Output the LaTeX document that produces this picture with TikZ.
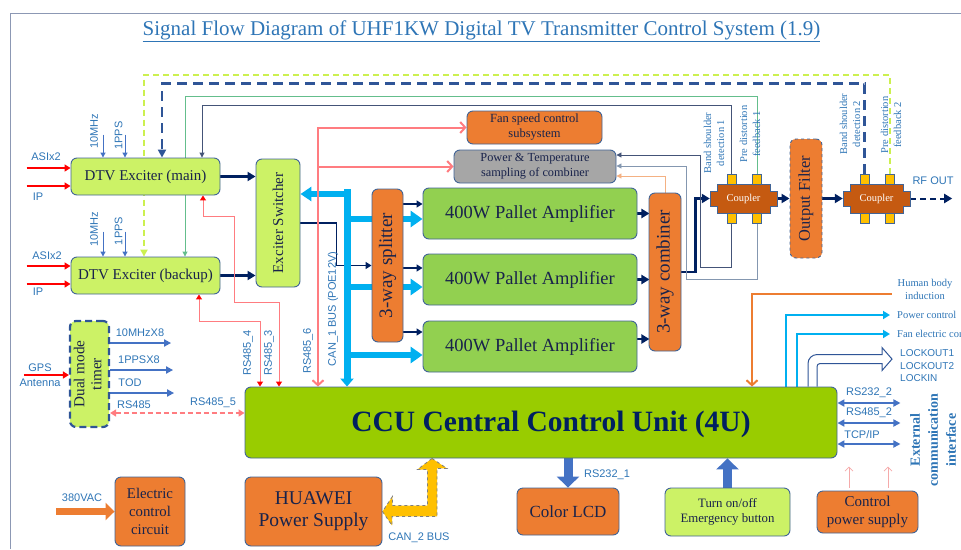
\documentclass[tikz,border=0pt]{standalone}
\usepackage{fontspec}
\usepackage{graphicx}
\setmainfont{Liberation Serif}
\setsansfont{Liberation Sans}
\usetikzlibrary{arrows.meta,backgrounds}

\definecolor{exlime}{RGB}{204,242,102}
\definecolor{pagreen}{RGB}{146,208,80}
\definecolor{ccugreen}{RGB}{153,204,0}
\definecolor{boxorange}{RGB}{237,125,49}
\definecolor{cplbrown}{RGB}{197,90,17}
\definecolor{tabyel}{RGB}{255,192,0}
\definecolor{navyln}{RGB}{0,32,96}
\definecolor{boxedge}{RGB}{65,100,150}
\definecolor{timernavy}{RGB}{47,85,151}
\definecolor{lblblue}{RGB}{46,117,182}
\definecolor{busblue}{RGB}{0,176,240}
\definecolor{rspink}{RGB}{255,124,128}
\definecolor{ltpink}{RGB}{245,170,170}
\definecolor{ltorange}{RGB}{244,177,131}
\definecolor{ptgray}{RGB}{166,166,166}
\definecolor{arrblue}{RGB}{68,114,196}
\definecolor{txtnavy}{RGB}{25,35,75}
\definecolor{fbgreen}{RGB}{100,190,140}
\definecolor{dashlime}{RGB}{204,240,80}
\definecolor{framegray}{RGB}{140,152,180}
\definecolor{fbgray}{RGB}{132,151,176}
\definecolor{fbnavy}{RGB}{68,84,120}

\tikzset{
  box/.style={draw=boxedge, line width=0.9pt, rounded corners=6pt, inner sep=0pt, text=txtnavy, align=center},
  litebox/.style={box, fill=exlime},
  orangebox/.style={box, fill=boxorange},
  pabox/.style={box, fill=pagreen, minimum width=214pt, minimum height=51pt, font=\fontsize{18.5}{22}\selectfont},
  tabsq/.style={draw=boxedge, line width=0.6pt, fill=tabyel, minimum width=9pt, minimum height=10pt, inner sep=0pt},
  sanslbl/.style={font=\sffamily\fontsize{11}{13}\selectfont, text=lblblue, inner sep=0pt},
  serlbl/.style={font=\fontsize{10.5}{13}\selectfont, text=lblblue, inner sep=0pt, align=center},
  thicknavy/.style={draw=navyln, line width=2.6pt, -{Triangle[length=8pt,width=9pt]}},
  thinnavy/.style={draw=navyln, line width=1.3pt, -{Triangle[length=6pt,width=7pt]}},
  fbline/.style={line width=0.9pt, -{Triangle[length=5pt,width=5pt]}},
  cyanfeed/.style={draw=busblue, line width=6.5pt, -{Triangle[length=12pt,width=16pt]}},
  cyanthin/.style={draw=busblue, line width=2.4pt, -{Triangle[length=7pt,width=8pt]}},
  pinkbus/.style={draw=rspink, line width=2pt},
  redlink/.style={draw=rspink, line width=1pt, {Triangle[length=5pt,width=6pt,color=red]}-{Triangle[length=5pt,width=6pt,color=red]}},
  redfeed/.style={draw=red, line width=1.8pt, -{Triangle[length=6pt,width=7pt]}},
  bluefeed/.style={draw=arrblue, line width=1pt, -{Triangle[length=5pt,width=5pt]}},
  extlink/.style={draw=arrblue, line width=1.8pt, {Triangle[length=7pt,width=7pt]}-{Triangle[length=7pt,width=7pt]}},
  blockarr/.style={line width=9pt, -{Triangle[length=11pt,width=22pt]}},
}

\begin{document}
\begin{tikzpicture}[x=1pt,y=-1pt]
\useasboundingbox (0,0) rectangle (961,549);

% frame and title
\draw[framegray, line width=1pt] (10,549) -- (10,13) -- (961,13);
\node[font=\fontsize{21}{25}\selectfont, text=lblblue, inner sep=0pt] (title) at (481.5,31)
  {\underline{Signal Flow Diagram of UHF1KW Digital TV Transmitter Control System (1.9)}};

% exciters, splitter, amplifiers
\node[litebox, minimum width=149pt, minimum height=37pt, font=\fontsize{15}{18}\selectfont] (exmain) at (145.5,176.5) {DTV Exciter (main)};
\node[litebox, minimum width=149pt, minimum height=37pt, font=\fontsize{15}{18}\selectfont] (exbak) at (145.5,275.5) {DTV Exciter (backup)};
\node[litebox, minimum width=44pt, minimum height=128pt, font=\fontsize{15}{18}\selectfont] (sw) at (278,223) {\rotatebox{90}{Exciter Switcher}};
\node[orangebox, minimum width=31pt, minimum height=153pt, font=\fontsize{19}{22}\selectfont] (sp) at (387.5,265.5) {\rotatebox{90}{3-way splitter}};
\foreach \y/\nm in {213.5/pa1,279.5/pa2,346.5/pa3}
  \node[pabox] (\nm) at (530,\y) {400W Pallet Amplifier};
\node[orangebox, minimum width=32pt, minimum height=158pt, font=\fontsize{19}{22}\selectfont] (cb) at (665,272) {\rotatebox{90}{3-way combiner}};
\node[orangebox, minimum width=135pt, minimum height=33pt, font=\fontsize{12.5}{15}\selectfont] (fan) at (534.5,127.5) {Fan speed control\\subsystem};
\node[box, fill=ptgray, minimum width=162pt, minimum height=33pt, font=\fontsize{12.3}{15}\selectfont] (pt) at (535,166.5) {Power \& Temperature\\sampling of combiner};
\node[orangebox, dashed, minimum width=32pt, minimum height=119pt, font=\fontsize{16.4}{20}\selectfont] (ofl) at (806,198.5) {\rotatebox{90}{Output Filter}};

% couplers
\foreach \cx/\nm in {743.5/cp1,876.5/cp2}{
  \draw[draw=boxedge, line width=0.8pt, fill=cplbrown]
    (\cx-33.5,191) -- (\cx-26.5,191) -- (\cx-26.5,184) -- (\cx+26.5,184) -- (\cx+26.5,191) -- (\cx+33.5,191)
    -- (\cx+33.5,206) -- (\cx+26.5,206) -- (\cx+26.5,213) -- (\cx-26.5,213) -- (\cx-26.5,206) -- (\cx-33.5,206) -- cycle;
  \node[font=\fontsize{10.5}{12}\selectfont, text=white, minimum width=53pt, minimum height=29pt, inner sep=0pt] (\nm) at (\cx,198.5) {Coupler};
  \node[tabsq] (\nm-tl) at (\cx-12,179) {};
  \node[tabsq] (\nm-tr) at (\cx+13.5,179) {};
  \node[tabsq] (\nm-bl) at (\cx-12,218) {};
  \node[tabsq] (\nm-br) at (\cx+13.5,218) {};
}

% control unit and timer
\node[box, fill=ccugreen, minimum width=592pt, minimum height=71pt] (ccu) at (541,422.5) {};
\node[font=\bfseries\fontsize{29.5}{34}\selectfont, text=navyln, inner sep=0pt] (ccu-txt) at (551,424) {CCU Central Control Unit (4U)};
\node[litebox, draw=timernavy, line width=2.2pt, dash pattern=on 7pt off 4pt, minimum width=39pt, minimum height=106pt, font=\fontsize{15.2}{17}\selectfont] (tm) at (89.5,374)
  {\rotatebox{90}{\begin{tabular}{@{}c@{}}Dual mode\\timer\end{tabular}}};

% bottom row
\node[orangebox, minimum width=70pt, minimum height=69pt, font=\fontsize{14.8}{18}\selectfont] (elec) at (150,511.5) {Electric\\control\\circuit};
\node[orangebox, minimum width=137pt, minimum height=69pt, font=\fontsize{19.5}{22}\selectfont] (hw) at (313.5,511.5) {HUAWEI\\Power Supply};
\node[orangebox, minimum width=102pt, minimum height=47pt, font=\fontsize{17}{20}\selectfont] (lcd) at (568,511.5) {Color LCD};
\node[litebox, minimum width=125pt, minimum height=48pt, font=\fontsize{12.8}{15}\selectfont] (estop) at (727.5,512) {Turn on/off\\Emergency button};
\node[orangebox, minimum width=101pt, minimum height=42pt, font=\fontsize{15}{18}\selectfont] (cps) at (867.5,512) {Control\\power supply};

% labels
\node[sanslbl] (asi-m) at (46,157) {ASIx2};
\node[sanslbl] (ip-m) at (38,197) {IP};
\node[sanslbl] (asi-b) at (47,256) {ASIx2};
\node[sanslbl] (ip-b) at (38,292) {IP};
\node[sanslbl, rotate=90] (mhz-m) at (94,131) {10MHz};
\node[sanslbl, rotate=90] (pps-m) at (118.5,135.5) {1PPS};
\node[sanslbl, rotate=90] (mhz-b) at (94,229) {10MHz};
\node[sanslbl, rotate=90] (pps-b) at (118.5,231) {1PPS};
\node[sanslbl] (gps) at (40,368) {GPS};
\node[sanslbl] (ant) at (40,383) {Antenna};
\node[sanslbl] (l-10m) at (140,333) {10MHzX8};
\node[sanslbl] (l-pps) at (139,360) {1PPSX8};
\node[sanslbl] (l-tod) at (130,383) {TOD};
\node[sanslbl] (l-485) at (134,405) {RS485};
\node[sanslbl] (l-4855) at (213,403) {RS485\_5};
\node[sanslbl, rotate=90] (l-4854) at (248,353) {RS485\_4};
\node[sanslbl, rotate=90] (l-4853) at (269,353) {RS485\_3};
\node[sanslbl, rotate=90] (l-4856) at (308,351) {RS485\_6};
\node[sanslbl, rotate=90] (l-can1) at (333,309) {CAN\_1 BUS (POE12V)};
\node[sanslbl] (l-can2) at (419,538) {CAN\_2 BUS};
\node[sanslbl] (l-2321) at (607,475) {RS232\_1};
\node[sanslbl] (l-vac) at (82,498) {380VAC};
\node[sanslbl] (l-rf) at (933,181) {RF OUT};
\node[sanslbl] (l-2322) at (869,393) {RS232\_2};
\node[sanslbl] (l-4852) at (869,413) {RS485\_2};
\node[sanslbl] (l-tcp) at (862,435) {TCP/IP};
\node[sanslbl, font=\sffamily\fontsize{10}{12.5}\selectfont, anchor=west, align=left] (l-lock) at (900,366) {LOCKOUT1\\LOCKOUT2\\LOCKIN};
\node[serlbl, rotate=90] (bsd1) at (714,143) {Band shoulder\\detection 1};
\node[serlbl, rotate=90] (pdf1) at (750,134) {Pre distortion\\feedback 1};
\node[serlbl, rotate=90] (bsd2) at (850,124) {Band shoulder\\detection 2};
\node[serlbl, rotate=90] (pdf2) at (891,125) {Pre distortion\\feedback 2};
\node[serlbl] (hbi) at (925,289.5) {Human body\\induction};
\node[serlbl, anchor=west] (pwrc) at (897,315) {Power control};
\node[serlbl, anchor=west] (fanc) at (897,334) {Fan electric control};
\node[serlbl, font=\bfseries\fontsize{14}{18}\selectfont, rotate=90] (ext) at (933,440) {External\\communication\\interface};

\begin{scope}[on background layer]
% feedback loops to the exciters
\draw[fbline, draw=fbnavy] (cp1-tl.north) -- ++(0,-68) -| ([xshift=56.5pt]exmain.north);
\draw[fbline, draw=fbgreen] (cp1-tr.north) -- ++(0,-77) -| ([xshift=39.5pt]exbak.north);
\draw[draw=timernavy, line width=2.8pt, dash pattern=on 10pt off 6pt, -{Triangle[length=8pt,width=8pt]}] (cp2-tl.north) -- ++(0,-90) -| ([xshift=16.5pt]exmain.north);
\draw[draw=dashlime, line width=2pt, dash pattern=on 6pt off 4pt, -{Triangle[length=7pt,width=7pt]}] (cp2-tr.north) -- ++(0,-99) -| ([xshift=-1.5pt]exbak.north);

% rf chain
\draw[thicknavy] (exmain.east) -- (exmain.east -| sw.west);
\draw[thicknavy] (exbak.east) -- (exbak.east -| sw.west);
\draw[thinnavy] (sw.east) -- ++(36,0) |- (sp.west);
\foreach \dy/\nm in {9.5/pa1,11.5/pa2,14.5/pa3}
  \draw[thinnavy] ([yshift=\dy pt]\nm.west) ++(-20,0) -- ++(20,0);
\foreach \dy/\nm in {0/pa1,0/pa2,7.5/pa3}
  \draw[thicknavy] ([yshift=\dy pt]\nm.east) -- ++(12,0);
\draw[thicknavy] (cb.east) -- ++(14,0) |- ([xshift=-7pt]cp1.west);
\draw[thicknavy] ([xshift=7pt]cp1.east) -- (ofl.west);
\draw[thicknavy] (ofl.east) -- ([xshift=-7pt]cp2.west);
\draw[thicknavy, line width=2pt, dash pattern=on 6pt off 4pt] ([xshift=7pt]cp2.east) -- ++(42,0);

% sampling returns
\draw[fbline, draw=fbnavy] (cp1-bl.south) -- ++(0,44) -- ++(-31.5,0) |- ([yshift=11.5pt]pt.east);
\draw[fbline, draw=fbgray] (cp1-br.south) -- ++(0,56) -- ++(-70.5,0) |- ([yshift=0.5pt]pt.east);
\draw[fbline, draw=ltorange] (cb.north) |- ([yshift=-9.5pt]pt.east);

% CAN_1 bus
\coordinate (bus) at (347,189);
\draw[draw=busblue, line width=7pt, -{Triangle[length=8pt,width=13pt]}] (bus) -- (bus |- ccu.north);
\draw[cyanfeed, line width=6pt, -{Triangle[length=11pt,width=14pt]}] ([yshift=29pt]sw.east -| bus) -- ([yshift=29pt]sw.east);
\foreach \dy/\nm in {-5.5/pa1,-7.5/pa2,-8.5/pa3}
  \draw[cyanfeed] ([yshift=\dy pt]\nm.west -| bus) -- ([yshift=\dy pt]\nm.west);

% RS485 links
\draw[pinkbus, {Straight Barb[length=5pt,width=11pt]}-{Straight Barb[length=5pt,width=11pt]}] ([xshift=-223pt]ccu.north) |- (fan.west);
\draw[pinkbus, -{Straight Barb[length=5pt,width=11pt]}] ([xshift=-223pt]ccu.north |- pt.west) -- (pt.west);
\draw[redlink] ([xshift=57.5pt]exmain.south) -- ++(0,21) -- ++(31,0) -- ++(0,86) -| ([xshift=-262pt]ccu.north);
\draw[redlink] ([xshift=53.5pt]exbak.south) -- ++(0,27) -| ([xshift=-281pt]ccu.north);
\draw[pinkbus, dash pattern=on 5pt off 3pt, {Triangle[length=6pt,width=7pt]}-{Triangle[length=6pt,width=7pt]}] ([yshift=-39pt]tm.east) -- ([yshift=-39pt]tm.east -| ccu.west);

% inputs
\draw[redfeed] ([yshift=8.5pt]exmain.west) ++(-44,0) -- ++(44,0);
\draw[redfeed] ([yshift=-9.5pt]exmain.west) ++(-44,0) -- ++(44,0);
\draw[redfeed] ([yshift=9.5pt]exbak.west) ++(-44,0) -- ++(44,0);
\draw[redfeed] ([yshift=-8.5pt]exbak.west) ++(-44,0) -- ++(44,0);
\draw[redfeed] ([yshift=-1pt]tm.west) ++(-45,0) -- ++(45,0);
\foreach \dx in {-42.5,-20.5}{
  \draw[bluefeed] ([xshift=\dx pt]exmain.north) ++(0,-23) -- ++(0,23);
  \draw[bluefeed] ([xshift=\dx pt]exbak.north) ++(0,-25) -- ++(0,25);
}
\draw[bluefeed, line width=2pt, -{Triangle[length=7pt,width=7pt]}] ([yshift=31pt]tm.east) -- ++(61,0);
\draw[bluefeed, line width=2pt, -{Triangle[length=7pt,width=7pt]}] ([yshift=4pt]tm.east) -- ++(63,0);
\draw[bluefeed, line width=2pt, -{Triangle[length=7pt,width=7pt]}] ([yshift=-19pt]tm.east) -- ++(64,0);

% around the CCU
\draw[draw=boxorange, line width=2pt, -{Straight Barb[length=5pt,width=11pt]}] ([xshift=-6pt,yshift=-4.5pt]hbi.west) -| ([xshift=211pt]ccu.north);
\draw[cyanthin] ([xshift=245pt]ccu.north) |- ([xshift=-7pt]pwrc.west);
\draw[cyanthin] ([xshift=256pt]ccu.north) |- ([xshift=-7pt]fanc.west);
\draw[draw=timernavy, line width=1pt, fill=white] ([xshift=267pt]ccu.north) [rounded corners=9pt] -- ++(0,-32) [sharp corners] -- ++(74,0)
  -- ++(0,-7) -- ++(10,11.5) -- ++(-10,11.5) -- ++(0,-7) [rounded corners=3pt] -- ++(-65,0) [sharp corners] -- ++(0,23);
\foreach \dy in {19.5,-0.5,-21.5}
  \draw[extlink] ([yshift=\dy pt]ccu.east) -- ++(63,0);

% bottom connections
\coordinate (vac) at (56,511.5);
\draw[draw=boxorange, line width=7pt, -{Triangle[length=9pt,width=17pt]}] (vac) -- (elec.west);
\draw[fill=tabyel, draw=gray, dashed, line width=0.8pt] ([xshift=-109pt]ccu.south) -- ++(15,10) -- ++(-10,0) -- ++(0,48) -- ++(-45,0) -- ++(0,9)
  -- (hw.east) -- ++(10,-15) -- ++(0,9) -- ++(35,0) -- ++(0,-36) -- ++(-10,0) -- cycle;
\draw[blockarr, draw=arrblue] (lcd.north |- ccu.south) -- (lcd.north);
\draw[blockarr, draw=arrblue] (estop.north) -- (estop.north |- ccu.south);
\foreach \dx in {-18.5,20.5}
  \draw[draw=ltpink, line width=0.8pt, -{Straight Barb[length=4pt,width=8pt]}] ([xshift=\dx pt]cps.north) ++(0,-3) -- ++(0,-21);
\end{scope}

\end{tikzpicture}
\end{document}
